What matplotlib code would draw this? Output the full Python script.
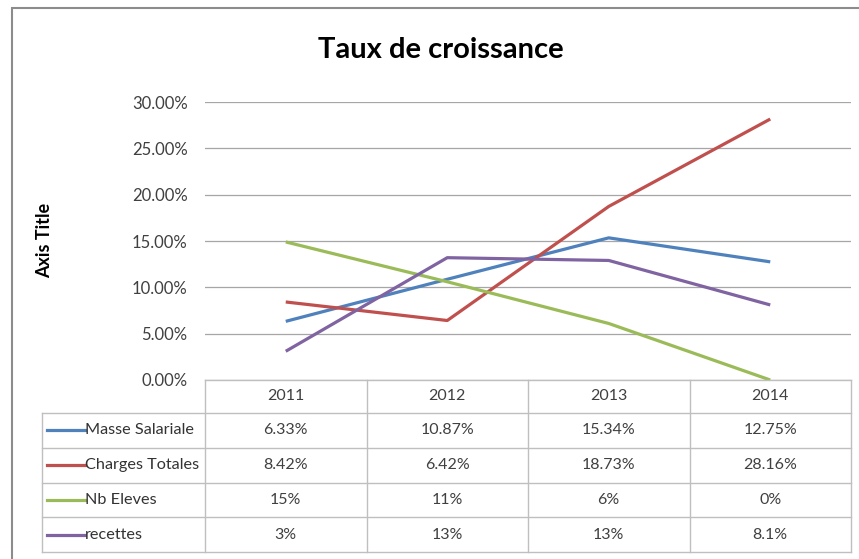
import matplotlib
matplotlib.use('Agg')
import matplotlib.pyplot as plt
from matplotlib.patches import Rectangle
from matplotlib.ticker import FuncFormatter

# ---- données -------------------------------------------------------
annees = ['2011', '2012', '2013', '2014']
series = ['Masse Salariale', 'Charges Totales', 'Nb Eleves', 'recettes']
masse_salariale = [6.33, 10.87, 15.34, 12.75]
charges_totales = [8.42, 6.42, 18.73, 28.16]
nb_eleves = [14.9, 10.6, 6.1, 0.0]
recettes = [3.1, 13.2, 12.9, 8.1]

# texte du tableau de données (tel qu'affiché dans Excel)
txt_masse = ['6.33%', '10.87%', '15.34%', '12.75%']
txt_charges = ['8.42%', '6.42%', '18.73%', '28.16%']
txt_eleves = ['15%', '11%', '6%', '0%']
txt_recettes = ['3%', '13%', '13%', '8.1%']

y_ticks = [0, 5, 10, 15, 20, 25, 30]

couleurs = ['#4F81BD', '#C0504D', '#9BBB59', '#8064A2']
valeurs = [masse_salariale, charges_totales, nb_eleves, recettes]
textes = [txt_masse, txt_charges, txt_eleves, txt_recettes]

plt.rcParams['font.family'] = ['Lato', 'DejaVu Sans']

fig = plt.figure(figsize=(8.59, 5.59), dpi=100)
ax = fig.add_axes([205/859, 1-380/559, 646/859, 278/559])

x = list(range(len(annees)))
for vals, c, nom in zip(valeurs, couleurs, series):
    ax.plot(x, vals, color=c, lw=2.3, label=nom, solid_capstyle='butt')

ax.set_xlim(-0.5, 3.5)
ax.set_ylim(0, 30)
ax.set_yticks(y_ticks)
ax.yaxis.set_major_formatter(FuncFormatter(lambda v, p: f'{v:.2f}%'))
ax.tick_params(axis='y', length=0, pad=12.5, labelsize=12, labelcolor='#404040')
ax.set_xticks([])
ax.yaxis.grid(True, color='#A6A6A6', lw=0.9)
ax.set_axisbelow(True)
for s in ax.spines.values():
    s.set_visible(False)

# ---- tableau de données sous le graphique ---------------------------
tr = ax.get_xaxis_transform()
grille = '#BFBFBF'
hh = 33/278
rh = 34.75/278
gauche = -0.5 - 162/161
ys = [0, -hh] + [-hh - rh*(i+1) for i in range(4)]
bas = ys[-1]

ax.plot([-0.5, 3.5], [0, 0], color=grille, lw=1, transform=tr, clip_on=False)
for yl in ys[1:]:
    ax.plot([gauche, 3.5], [yl, yl], color=grille, lw=1, transform=tr, clip_on=False)
ax.plot([gauche, gauche], [-hh, bas], color=grille, lw=1, transform=tr, clip_on=False)
for xv in [-0.5, 0.5, 1.5, 2.5, 3.5]:
    ax.plot([xv, xv], [0, bas], color=grille, lw=1, transform=tr, clip_on=False)

for i, a in enumerate(annees):
    ax.text(i, -hh/2, a, transform=tr, ha='center', va='center', fontsize=11.5, color='#404040')

for r, (nom, c, txts) in enumerate(zip(series, couleurs, textes)):
    yc = -hh - rh*r - rh/2
    ax.plot([gauche + 0.025, gauche + 0.262], [yc, yc], color=c, lw=2.3, transform=tr, clip_on=False)
    ax.text(gauche + 0.265, yc, nom, transform=tr, ha='left', va='center', fontsize=11.7, color='#333333')
    for i, t in enumerate(txts):
        ax.text(i, yc, t, transform=tr, ha='center', va='center', fontsize=11.5, color='#404040')

# ---- titres ----------------------------------------------------------
fig.text(441/859, 1-50/559, 'Taux de croissance', ha='center', va='center',
         fontsize=21, fontweight='bold', color='black')
fig.text(45/859, 1-240/559, 'Axis Title', rotation=90, ha='center', va='center',
         fontsize=13, fontweight='bold', color='black')

# cadre du graphique
fig.patches.append(Rectangle((12/859, -0.05), 1.1, 1-8/559+0.05, transform=fig.transFigure,
                             fill=False, edgecolor='#8C8C8C', lw=1.5))

fig.savefig('out.png', dpi=100)
